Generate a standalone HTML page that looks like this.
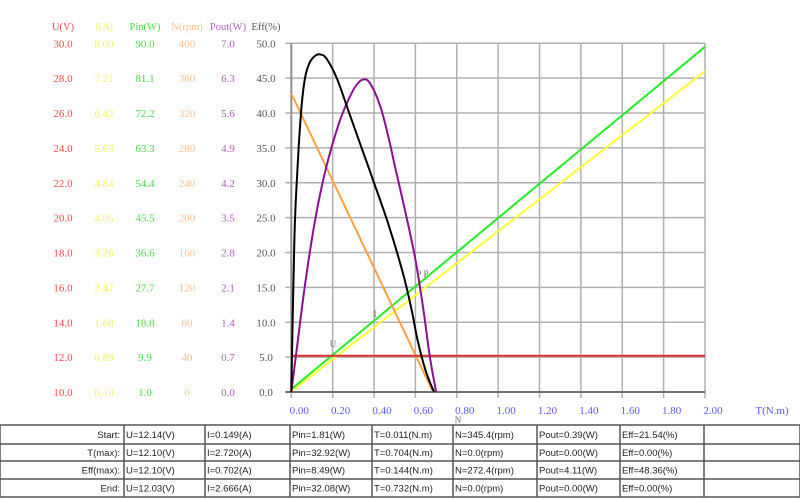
<!DOCTYPE html>
<html><head><meta charset="utf-8"><style>
html,body{margin:0;padding:0;background:#fff;width:800px;height:503px;overflow:hidden}
svg{display:block;font-family:"Liberation Serif","Noto Serif CJK SC",serif}
</style></head><body>
<svg id="chart" width="800" height="503" viewBox="0 0 800 503" xmlns="http://www.w3.org/2000/svg">
<g id="grid"></g>
<g id="axes"></g>
<g id="series"></g>
<g id="table"></g>
</svg>
<script>
// Data (x = torque N.m, y = Eff-scale value 0..50)
const xTicks = ["0.00","0.20","0.40","0.60","0.80","1.00","1.20","1.40","1.60","1.80","2.00"];
const effTicks = ["0.0","5.0","10.0","15.0","20.0","25.0","30.0","35.0","40.0","45.0","50.0"];
const uTicks = ["10.0","12.0","14.0","16.0","18.0","20.0","22.0","24.0","26.0","28.0","30.0"];
const iTicks = ["0.10","0.89","1.68","2.47","3.26","4.05","4.84","5.63","6.42","7.21","8.00"];
const pinTicks = ["1.0","9.9","18.8","27.7","36.6","45.5","54.4","63.3","72.2","81.1","90.0"];
const nTicks = ["0","40","80","120","160","200","240","280","320","360","400"];
const poutTicks = ["0.0","0.7","1.4","2.1","2.8","3.5","4.2","4.9","5.6","6.3","7.0"];
const uT = [0, 2.0];           const uV = [5.2, 5.2];
const pinT = [0, 2.0];         const pinV = [0.4, 49.5];
const iT = [0, 2.0];           const iV = [0.1, 46.0];
const nT = [0, 0.685];         const nV = [42.8, 0];
const effT = [0, 0.015, 0.028, 0.047, 0.066, 0.09, 0.12, 0.142, 0.17, 0.22, 0.28, 0.34, 0.40, 0.47, 0.54, 0.58, 0.61, 0.65, 0.69];
const effV = [0, 22, 31, 40, 45, 47.3, 48.3, 48.4, 47.8, 45, 40, 35, 30, 24, 17, 12, 7.5, 3, 0];
const poutT = [0, 0.03, 0.06, 0.10, 0.14, 0.18, 0.23, 0.27, 0.31, 0.345, 0.38, 0.43, 0.47, 0.50, 0.55, 0.60, 0.64, 0.67, 0.70];
const poutV = [0, 7, 14, 22, 28.5, 33.5, 38.5, 41.5, 43.8, 44.8, 44.3, 41, 36.5, 32.5, 26, 19, 11.5, 5, 0];
const rowLabels = ["Start:","T(max):","Eff(max):","End:"];
const colU = ["U=12.14(V)","U=12.10(V)","U=12.10(V)","U=12.03(V)"];
const colI = ["I=0.149(A)","I=2.720(A)","I=0.702(A)","I=2.666(A)"];
const colPin = ["Pin=1.81(W)","Pin=32.92(W)","Pin=8.49(W)","Pin=32.08(W)"];
const colT = ["T=0.011(N.m)","T=0.704(N.m)","T=0.144(N.m)","T=0.732(N.m)"];
const colN = ["N=345.4(rpm)","N=0.0(rpm)","N=272.4(rpm)","N=0.0(rpm)"];
const colPout = ["Pout=0.39(W)","Pout=0.00(W)","Pout=4.11(W)","Pout=0.00(W)"];
const colEff = ["Eff=21.54(%)","Eff=0.00(%)","Eff=48.36(%)","Eff=0.00(%)"];

const NS="http://www.w3.org/2000/svg";
const X0=291.3, X1=705, Y0=392, Y1=43.3;
const sx=t=>X0+(t/2)*(X1-X0);
const sy=v=>Y0-(v/50)*(Y0-Y1);
function mk(tag,attrs,parent,text){const e=document.createElementNS(NS,tag);for(const k in attrs)e.setAttribute(k,attrs[k]);if(text!==undefined)e.textContent=text;parent.appendChild(e);return e;}
const grid=document.getElementById('grid'),axes=document.getElementById('axes'),series=document.getElementById('series'),table=document.getElementById('table');

for(let i=0;i<xTicks.length;i++){
  const x=sx(i*0.2);
  const l=mk('line',{x1:x,y1:Y1,x2:x,y2:Y0+6,stroke:'#b0b0b0','stroke-width':1.5},grid);
  
  
  const t=mk('text',{x:x+8,y:414,'font-size':11,fill:'#5a5aff','text-anchor':'middle'},axes,xTicks[i]);
  
  
}
for(let i=0;i<effTicks.length;i++){
  const y=sy(i*5);
  const l=mk('line',{x1:X0-6,y1:y,x2:X1,y2:y,stroke:i==0?'#707070':'#b0b0b0','stroke-width':i==0?2:1.5},grid);
  
  
  const cols=[[uTicks,63,'#ff4a4a'],[iTicks,104,'#f4f060'],[pinTicks,145,'#44dd44'],[nTicks,187,'#ffc08a'],[poutTicks,228,'#b060c0'],[effTicks,266,'#555']];
  for(const [arr,cx,c] of cols){
    const t=mk('text',{x:cx,y:y+4,'font-size':11,fill:c,'text-anchor':'middle'},axes,arr[i]);
    
    
  }
}
const l0=mk('line',{x1:X0,y1:Y1,x2:X0,y2:Y0,stroke:'#909090','stroke-width':2},grid);


const heads=[["U(V)",63,'#ff4a4a'],["I(A)",104,'#f4f060'],["Pin(W)",145,'#44dd44'],["N(rpm)",187,'#ffc08a'],["Pout(W)",228,'#b060c0'],["Eff(%)",266,'#555']];
for(const [h,cx,c] of heads){
  const t=mk('text',{x:cx,y:30,'font-size':10.5,fill:c,'text-anchor':'middle'},axes,h);
  
  
}
let tt=mk('text',{x:772,y:414,'font-size':11,fill:'#5a5aff','text-anchor':'middle'},axes,'T(N.m)');



function path(T,V,color,name,smooth){
  const P=T.map((t,i)=>[sx(t),sy(V[i])]);
  let d='M'+P[0][0].toFixed(1)+','+P[0][1].toFixed(1);
  for(let i=0;i<P.length-1;i++){
    if(!smooth){d+='L'+P[i+1][0].toFixed(1)+','+P[i+1][1].toFixed(1);continue;}
    const p0=P[Math.max(0,i-1)],p1=P[i],p2=P[i+1],p3=P[Math.min(P.length-1,i+2)];
    const c1=[p1[0]+(p2[0]-p0[0])/6,p1[1]+(p2[1]-p0[1])/6];
    const c2=[p2[0]-(p3[0]-p1[0])/6,p2[1]-(p3[1]-p1[1])/6];
    d+='C'+c1.map(v=>v.toFixed(1)).join(',')+' '+c2.map(v=>v.toFixed(1)).join(',')+' '+p2.map(v=>v.toFixed(1)).join(',');
  }
  const p=mk('path',{d:d,fill:'none',stroke:color,'stroke-width':2,'stroke-linejoin':'round'},series);
  
  
}
path(iT,iV,'#ffff30','current-line',false);
path(pinT,pinV,'#22ee22','input-power-line',false);
path(nT,nV,'#ffa040','speed-line',false);
path(uT,uV,'#dd3030','voltage-line',false);
path(poutT,poutV,'#8a1090','output-power-curve',true);
path(effT,effV,'#000','efficiency-curve',true);
const marks=[["U",333,347],["I",375,317],["P",419,277],["P",426,277],["N",458,423]];
for(const [s,x,y] of marks){
  const t=mk('text',{x:x,y:y,'font-size':9,fill:'#666','text-anchor':'middle'},axes,s);
  
  
}

// table
const rowsY=[425,444,461,479,497];
const colX=[0,124,205,290,372,453,537,620,704,800];
for(const y of rowsY){const l=mk('line',{x1:0,y1:y,x2:800,y2:y,stroke:'#555','stroke-width':1.5},table);}
for(const x of colX){const l=mk('line',{x1:x,y1:425,x2:x,y2:497,stroke:'#555','stroke-width':1.5},table);}
const cols=[colU,colI,colPin,colT,colN,colPout,colEff];
for(let r=0;r<4;r++){
  const cy=(rowsY[r]+rowsY[r+1])/2+3.5;
  const lb=mk('text',{x:120,y:cy,'font-size':9.5,fill:'#222','text-anchor':'end','font-family':'Liberation Sans, sans-serif'},table,rowLabels[r]);
  
  
  for(let c=0;c<cols.length;c++){
    const t=mk('text',{x:colX[c+1]+2,y:cy,'font-size':9.5,fill:'#222','font-family':'Liberation Sans, sans-serif'},table,cols[c][r]);
    
    
  }
}
</script>
</body></html>
